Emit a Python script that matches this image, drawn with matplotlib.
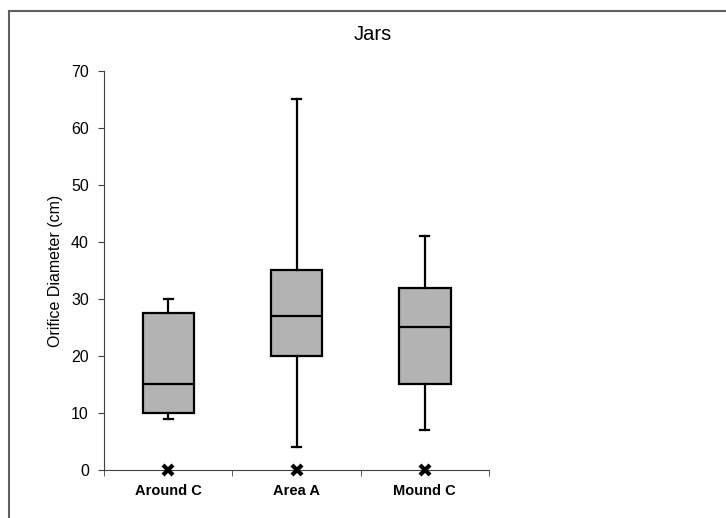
import matplotlib.pyplot as plt
from matplotlib.lines import Line2D

plt.rcParams['font.family'] = ['Liberation Sans', 'DejaVu Sans']

# box plot values
sites = ['Around C', 'Area A', 'Mound C']
whisker_low = [9, 4, 7]
q1 = [10, 20, 15]
median = [15, 27, 25]
q3 = [27.5, 35, 32]
whisker_high = [30, 65, 41]
# the x markers along the bottom
marker_vals = [0, 0, 0]

fig = plt.figure(figsize=(7.26, 5.18), dpi=100)
ax = fig.add_axes([0.1433, 0.0927, 0.5303, 0.7703])

stats = []
for i in range(len(sites)):
    stats.append({'whislo': whisker_low[i], 'q1': q1[i], 'med': median[i],
                  'q3': q3[i], 'whishi': whisker_high[i], 'fliers': [],
                  'label': sites[i]})

pos = list(range(1, len(sites) + 1))
ax.bxp(stats, positions=pos, widths=0.4, patch_artist=True, showfliers=False,
       boxprops=dict(facecolor='#b3b3b3', edgecolor='black', linewidth=1.6),
       medianprops=dict(color='black', linewidth=1.6),
       whiskerprops=dict(color='black', linewidth=1.6),
       capprops=dict(color='black', linewidth=1.6),
       capwidths=0.07)

ax.plot(pos, marker_vals, linestyle='none', marker='x', color='black',
        markersize=7, markeredgewidth=3, clip_on=False, zorder=5)

ax.set_xlim(0.5, 3.5)
ax.set_ylim(0, 70)
ax.set_yticks(range(0, 71, 10))
ax.set_xticks(pos)
ax.set_xticklabels(sites, fontweight='bold', fontsize=10.5)
ax.set_xticks([0.5, 1.5, 2.5, 3.5], minor=True)
ax.tick_params(axis='x', which='major', length=0, pad=10)
ax.tick_params(axis='x', which='minor', length=4, color='#404040')
ax.tick_params(axis='y', length=4, labelsize=11.5, color='#404040', pad=7)
ax.spines['top'].set_visible(False)
ax.spines['right'].set_visible(False)
ax.spines['left'].set_color('#404040')
ax.spines['bottom'].set_color('#404040')
ax.set_ylabel('Orifice Diameter (cm)', fontsize=11.5, labelpad=6)
fig.text(373 / 726, 1 - 34 / 518, 'Jars', fontsize=14.5, ha='center', va='center')

# frame round the chart area (only top and left show in the crop)
fig.add_artist(Line2D([9 / 726, 9 / 726], [0, 1 - 11 / 518], color='#606060', lw=1.5))
fig.add_artist(Line2D([9 / 726, 1], [1 - 11 / 518, 1 - 11 / 518], color='#606060', lw=1.5))

fig.savefig('out.png', dpi=100)
